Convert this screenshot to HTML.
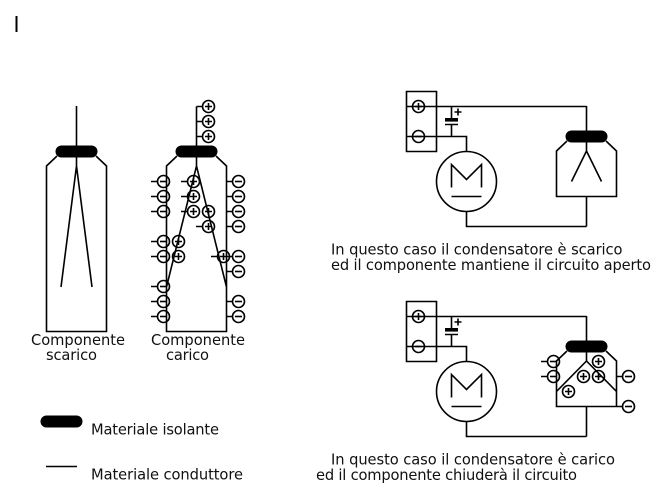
<!DOCTYPE html>
<html><head><meta charset="utf-8"><style>
html,body{margin:0;padding:0;background:#fff}
svg{display:block}
text{font-family:"DejaVu Sans",sans-serif;font-size:14.67px;fill:#111}
.l{fill:none;stroke:#000;stroke-width:1.6}
.b{fill:#000;stroke:none}
.c{fill:none;stroke:#000;stroke-width:1.6}
</style></head><body>
<svg width="666" height="498" viewBox="0 0 666 498" xmlns="http://www.w3.org/2000/svg">
<defs>
<g id="p"><circle class="c" r="6"/><path class="l" d="M-3.5 0H3.5M0 -3.5V3.5"/></g>
<g id="m"><circle class="c" r="6"/><path class="l" d="M-3.5 0H3.500"/></g>
<g id="motor"><circle class="c" cx="466.500" cy="181.500" r="30"/>
<path class="l" d="M406.500 91.500H436.500V151.500H406.500ZM406.500 106.500H586.500M406.500 136.500H466.500V151M451.500 106.500V118M451.500 124V136.500M451.500 187.500V164.500L466.500 179.500L481.500 164.500V187.500M451.500 196.500H481.500M466.500 211V226.500H586.500"/>
<rect class="b" x="445" y="118" width="13" height="3.600"/>
<path class="l" d="M445 124.500H458M454.500 112H461.500M458 108.500V115.500"/>
<use href="#p" x="418.500" y="106.500"/><use href="#m" x="418.500" y="136.500"/></g>
</defs>
<path class="l" d="M16.500 16V32" style="stroke-width:2"/>
<!-- Component 1 -->
<path class="l" d="M76.500 106V166M57 156L46.500 166V331.500H106.500V166L96 156M76.500 166L61 287M76.500 166L92 287"/>
<rect class="b" x="55.500" y="145.500" width="42" height="12" rx="6"/>
<!-- Component 2 -->
<path class="l" d="M196.500 106.500V166M196.500 106.500H203M196.500 121.500H203M196.500 136.500H203M177 156L166.500 166V331.500H226.500V166L216 156M196.500 166L166.500 287M196.500 166L226.500 287"/>
<rect class="b" x="175.500" y="145.500" width="42" height="12" rx="6"/>
<path class="l" d="M151 181.500H157M151 196.500H157M151 211.500H157M151 241.500H157M151 256.500H157M151 286.500H157M151 301.500H157M151 316.500H157M181 181.500H187M181 196.500H187M181 211.500H187M196 226.500H202M211 256.500H217M226.500 181.500H232M226.500 196.500H232M226.500 211.500H232M226.500 226.500H232M226.500 256.500H232M226.500 271.500H232M226.500 301.500H232M226.500 316.500H232"/>
<use href="#p" x="208.500" y="106.500"/><use href="#p" x="208.500" y="121.500"/><use href="#p" x="208.500" y="136.500"/>
<use href="#m" x="163.500" y="181.500"/><use href="#m" x="163.500" y="196.500"/><use href="#m" x="163.500" y="211.500"/><use href="#m" x="163.500" y="241.500"/><use href="#m" x="163.500" y="256.500"/><use href="#m" x="163.500" y="286.500"/><use href="#m" x="163.500" y="301.500"/><use href="#m" x="163.500" y="316.500"/>
<use href="#p" x="178.500" y="241.500"/><use href="#p" x="178.500" y="256.500"/>
<use href="#p" x="193.500" y="181.500"/><use href="#p" x="193.500" y="196.500"/><use href="#p" x="193.500" y="211.500"/>
<use href="#p" x="208.500" y="211.500"/><use href="#p" x="208.500" y="226.500"/><use href="#p" x="223.500" y="256.500"/>
<use href="#m" x="238.500" y="181.500"/><use href="#m" x="238.500" y="196.500"/><use href="#m" x="238.500" y="211.500"/><use href="#m" x="238.500" y="226.500"/><use href="#m" x="238.500" y="256.500"/><use href="#m" x="238.500" y="271.500"/><use href="#m" x="238.500" y="301.500"/><use href="#m" x="238.500" y="316.500"/>
<!-- Circuit 1 -->
<use href="#motor"/>
<path class="l" d="M586.500 106V151M567 141L556.500 151V196.500H616.500V151L606 141M586.500 151L571.500 181.500M586.500 151L601.500 181.500M586.500 196.500V226.500"/>
<rect class="b" x="565.500" y="130.500" width="42" height="12" rx="6"/>
<!-- Circuit 2 -->
<use href="#motor" y="210"/>
<path class="l" d="M586.500 316V361M567 351L556.500 361V406.500H616.500V361L606 351M586.500 361L556.500 391.500M586.500 361L616.500 391.500M586.500 406.500V436.500M541 361.500H547M541 376.500H547M616.500 376.500H622M616.500 406.500H622"/>
<rect class="b" x="565.500" y="340.500" width="42" height="12" rx="6"/>
<use href="#m" x="553.500" y="361.500"/><use href="#m" x="553.500" y="376.500"/>
<use href="#p" x="598.500" y="361.500"/><use href="#p" x="583.500" y="376.500"/><use href="#p" x="598.500" y="376.500"/><use href="#p" x="568.500" y="391.500"/>
<use href="#m" x="628.500" y="376.500"/><use href="#m" x="628.500" y="406.500"/>
<!-- Legend -->
<rect class="b" x="40.500" y="415.500" width="42" height="12" rx="6"/>
<path class="l" d="M46 466.500H77"/>
<!-- Text -->
<text x="31" y="345" textLength="94">Componente</text>
<text x="46" y="360" textLength="51">scarico</text>
<text x="151" y="345" textLength="94">Componente</text>
<text x="166" y="360" textLength="43">carico</text>
<text x="91" y="434.500" textLength="128">Materiale isolante</text>
<text x="91" y="479.500" textLength="152">Materiale conduttore</text>
<text x="331" y="254.500" textLength="291.500">In questo caso il condensatore è scarico</text>
<text x="331" y="270" textLength="320">ed il componente mantiene il circuito aperto</text>
<text x="331" y="464.500" textLength="284">In questo caso il condensatore è carico</text>
<text x="316" y="480" textLength="261">ed il componente chiuderà il circuito</text>
</svg>
</body></html>
